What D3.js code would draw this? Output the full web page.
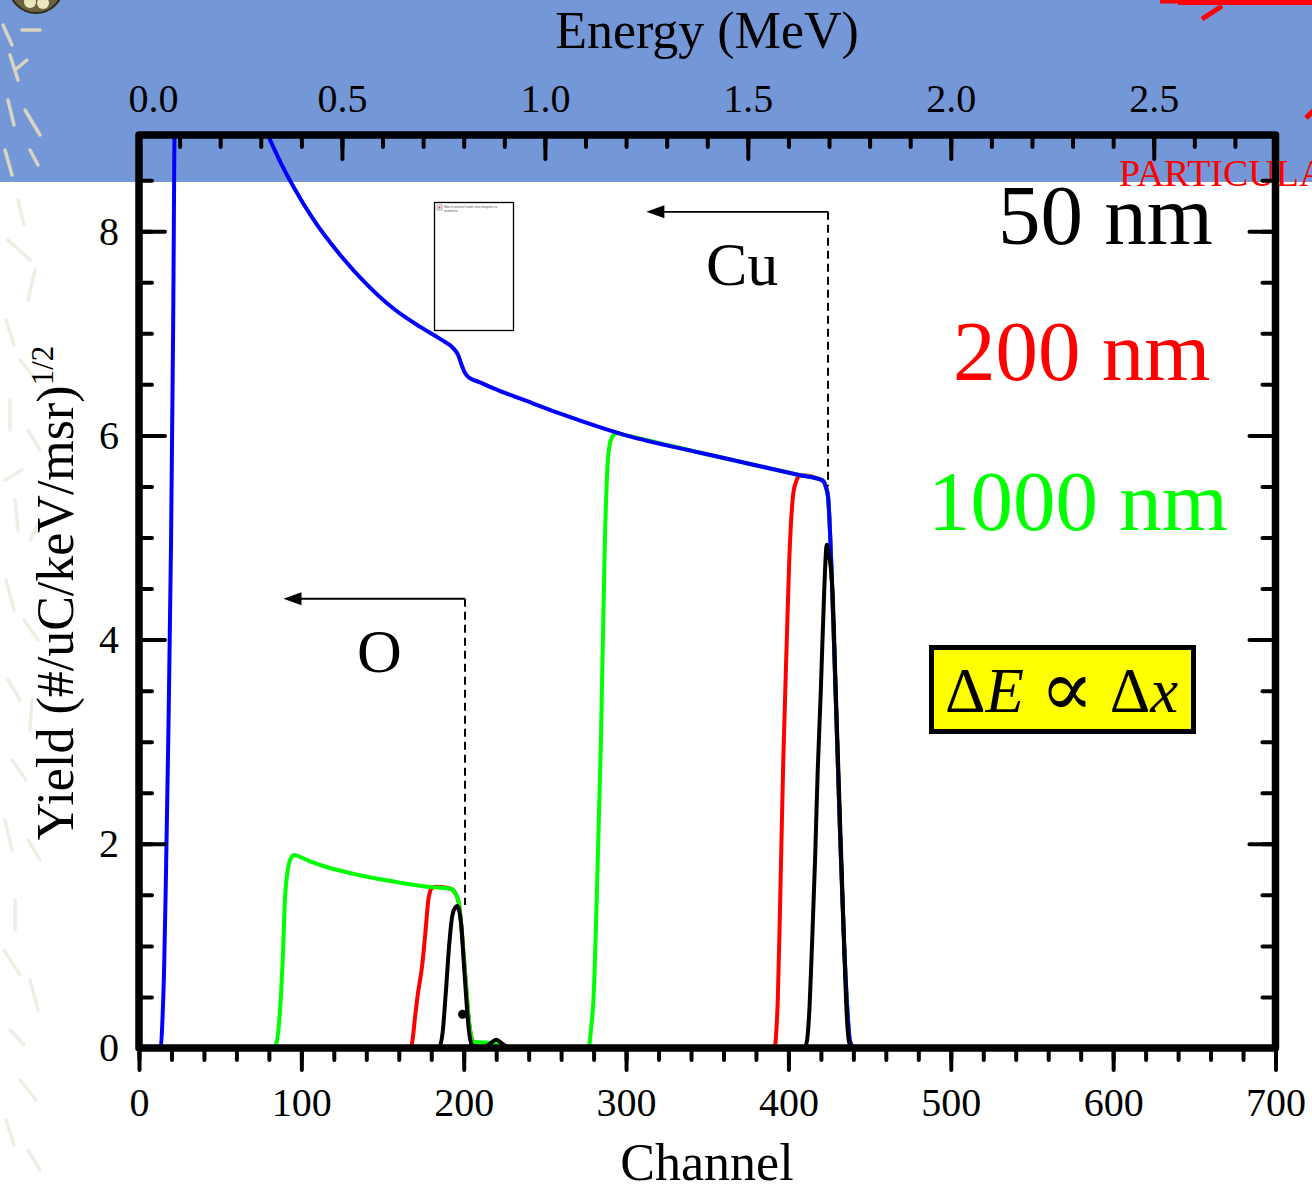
<!DOCTYPE html>
<html>
<head>
<meta charset="utf-8">
<script src="https://cdn.jsdelivr.net/npm/d3@7"></script>
<style>
  html, body { margin: 0; padding: 0; background: #fff; }
  svg { display: block; font-family: "Liberation Serif", "Times New Roman", serif; }
</style>
</head>
<body>
<div id="chart"></div>
<script>
// datos: [canal, yield]
const blueSeries = [[10,0],[13.5,0.02],[14.5,0.3],[15.5,0.8],[16.5,1.6],[18,3.0],[19.7,4.9],[21,7.0],[22.2,9.3],[70,9.27],[79.4,8.94],[87,8.68],[95.3,8.43],[107.6,8.11],[124.3,7.76],[140.9,7.47],[156.9,7.24],[173.5,7.06],[186,6.94],[193.8,6.85],[196.5,6.79],[198.5,6.70],[200.5,6.62],[203,6.57],[210,6.52],[218.4,6.46],[235,6.36],[260,6.21],[300,6.0],[345.7,5.83],[376.4,5.72],[407.2,5.61],[420.9,5.56],[423,5.5],[424.4,5.4],[425.5,5.1],[426.5,4.7],[428,4.0],[430,3.0],[432,2.0],[434,1.15],[436,0.45],[438,0.06],[441,0],[700,0]];

const greenSeries = [[0,0],[82,0],[84,0.02],[86.4,0.27],[88.5,0.86],[89.9,1.45],[91.6,1.74],[93.6,1.86],[95.5,1.89],[98,1.88],[105,1.83],[116,1.77],[136.6,1.69],[157,1.63],[177.5,1.58],[192,1.56],[195,1.51],[197,1.42],[198.5,1.2],[200,0.9],[201.5,0.6],[203,0.3],[204.5,0.12],[206,0.06],[212,0.055],[218,0.05],[223,0.04],[226,0],[270,0],[277,0.01],[278.5,0.2],[280,0.5],[282,1.5],[284.5,3.0],[287,5.0],[289,5.8],[291,5.97],[294,6.02],[300,6.0],[345.7,5.83],[376.4,5.72],[407.2,5.61],[420.9,5.56],[423,5.5],[424.4,5.4],[425.5,5.1],[426.5,4.7],[428,4.0],[430,3.0],[432,2.0],[434,1.15],[436,0.45],[438,0.06],[441,0],[700,0]];

const redSeries = [[0,0],[166,0],[167.5,0.01],[168.5,0.08],[170,0.3],[171.5,0.5],[174.5,0.82],[176.5,1.15],[178.4,1.47],[180.6,1.57],[183,1.58],[192,1.56],[195,1.51],[197,1.42],[198.5,1.2],[200,0.9],[201.5,0.6],[203,0.3],[204.5,0.12],[206,0.06],[210,0],[385,0],[391.5,0.01],[392.5,0.15],[393.5,0.5],[395,1.5],[396.8,2.8],[399,4.0],[400.5,4.77],[403,5.43],[405,5.56],[407.2,5.61],[420.9,5.56],[423,5.5],[424.4,5.4],[425.5,5.1],[426.5,4.7],[428,4.0],[430,3.0],[432,2.0],[434,1.15],[436,0.45],[438,0.06],[441,0],[700,0]];

const blackSeries = [[0,0],[180,0],[185,0.01],[187,0.15],[189,0.55],[191,1.0],[193,1.3],[195,1.38],[196,1.39],[197,1.36],[198.5,1.2],[200,0.85],[201.5,0.5],[203,0.2],[205,0.03],[208,0],[212,0],[216,0.04],[220,0.08],[224,0.04],[228,0],[405,0],[410,0],[411.5,0.08],[413,0.4],[414.5,1.0],[416.4,1.84],[418,2.7],[419.9,3.48],[422,4.46],[423.6,4.93],[425,4.83],[427.2,4.46],[429.2,3.48],[431,2.6],[432.6,1.84],[434.5,0.9],[436,0.3],[437.5,0.05],[440,0],[700,0]];

const strayPoints = [[199.3, 0.33]];

// ticks
const channelMajor = [0, 100, 200, 300, 400, 500, 600, 700];
const channelMinor = d3.range(0, 701, 20);
const yieldMajor = [0, 2, 4, 6, 8];
const yieldMinor = d3.range(0, 8.6, 0.5);
const energyMajor = [0, 0.5, 1.0, 1.5, 2.0, 2.5];
const energyMinor = d3.range(0, 2.81, 0.1);

const legendLabels = ["50 nm", "200 nm", "1000 nm"];
const legendColors = ["#000000", "#ff0000", "#00ff00"];

const w = 1312;
const h = 1185;
const pLeft = 139, pRight = 1275.5, pTop = 135, pBottom = 1048;

const xScale = d3.scaleLinear().domain([0, 700]).range([pLeft, pRight]);
const eScale = d3.scaleLinear().domain([0, 2.8]).range([pLeft, pRight]);
const yScale = d3.scaleLinear().domain([0, (pBottom - pTop) / 102.1]).range([pBottom, pTop]);

const svg = d3.select("#chart").append("svg").attr("width", w).attr("height", h);

// fondo de la diapositiva
svg.append("rect").attr("width", w).attr("height", h).attr("fill", "#fff");
svg.append("rect").attr("width", w).attr("height", 182).attr("fill", "#7498d7");

// adornos del margen izquierdo
const deco = svg.append("g").attr("stroke-linecap", "round").attr("fill", "none");
const decoLines = [
  [[22,30],[40,30]], [[3,25],[12,45]], [[10,55],[18,80]], [[15,70],[27,60]], [[8,100],[14,125]],
  [[25,110],[40,135]], [[5,150],[12,175]], [[30,150],[38,165]], [[18,200],[24,225]], [[8,240],[30,260]],
  [[35,270],[28,300]], [[6,320],[14,345]], [[20,360],[36,380]], [[10,400],[10,430]], [[28,430],[40,450]],
  [[5,480],[22,470]], [[15,500],[18,530]], [[30,540],[40,520]], [[6,580],[14,610]], [[24,620],[38,640]],
  [[8,680],[20,700]], [[32,700],[30,730]], [[12,760],[26,780]], [[5,820],[12,850]], [[28,840],[40,860]],
  [[15,900],[15,930]], [[4,950],[20,975]], [[30,980],[38,1010]], [[10,1030],[24,1045]], [[20,1080],[36,1100]],
  [[6,1120],[14,1145]], [[28,1150],[40,1170]]
];
decoLines.forEach((s) => {
  deco.append("line")
    .attr("x1", s[0][0]).attr("y1", s[0][1]).attr("x2", s[1][0]).attr("y2", s[1][1])
    .attr("stroke", s[0][1] < 182 ? "#d8d4c0" : "#f0ede4").attr("stroke-width", 3.5);
});
const ball = svg.append("g");
ball.append("circle").attr("cx", 36).attr("cy", -14).attr("r", 27).attr("fill", "#6b6342").attr("stroke", "#2e2a1a").attr("stroke-width", 2);
ball.append("circle").attr("cx", 30).attr("cy", 2).attr("r", 6).attr("fill", "#ece6bd");
ball.append("circle").attr("cx", 43).attr("cy", 3).attr("r", 6).attr("fill", "#ece6bd");

// trazos rojos arriba a la derecha
svg.append("line").attr("x1", 1160).attr("y1", 1).attr("x2", 1312).attr("y2", 1).attr("stroke", "#ff0000").attr("stroke-width", 5);
svg.append("line").attr("x1", 1178).attr("y1", 2).attr("x2", 1312).attr("y2", 2).attr("stroke", "#ff0000").attr("stroke-width", 6);
svg.append("line").attr("x1", 1202).attr("y1", 19).attr("x2", 1222).attr("y2", 6).attr("stroke", "#ff0000").attr("stroke-width", 5);
svg.append("line").attr("x1", 1306).attr("y1", 118).attr("x2", 1314).attr("y2", 110).attr("stroke", "#ff0000").attr("stroke-width", 5);
svg.append("text").attr("x", 1119).attr("y", 186).attr("font-size", 38).attr("fill", "#ff0000").text("PARTICULA");

// imagen rota
svg.append("rect").attr("x", 434.5).attr("y", 202.5).attr("width", 79).attr("height", 128)
  .attr("fill", "#fff").attr("stroke", "#000").attr("stroke-width", 1.3);
svg.append("rect").attr("x", 437).attr("y", 205).attr("width", 5).attr("height", 5)
  .attr("fill", "#fff").attr("stroke", "#888").attr("stroke-width", 0.7);
svg.append("rect").attr("x", 438.5).attr("y", 206.5).attr("width", 2).attr("height", 2).attr("fill", "#e03030");
const broken = svg.append("text").attr("x", 444).attr("y", 208).attr("font-family", "Liberation Sans, Arial, sans-serif")
  .attr("font-size", 3.2).attr("fill", "#555");
broken.append("tspan").attr("x", 444).text("Não é possível exibir esta imagem no");
broken.append("tspan").attr("x", 444).attr("dy", 3.6).text("momento.");

// curvas
svg.append("clipPath").attr("id", "plot-clip")
  .append("rect").attr("x", pLeft).attr("y", pTop).attr("width", pRight - pLeft).attr("height", pBottom - pTop);

const line = d3.line()
  .x((d) => xScale(d[0]))
  .y((d) => yScale(d[1]))
  .curve(d3.curveMonotoneX);

const curves = svg.append("g").attr("clip-path", "url(#plot-clip)");
[[redSeries, "#ff0000"], [greenSeries, "#00ff00"], [blueSeries, "#0000ff"], [blackSeries, "#000000"]].forEach(([s, c]) => {
  curves.append("path")
    .datum(s)
    .attr("fill", "none")
    .attr("stroke", c)
    .attr("stroke-width", 4)
    .attr("stroke-linejoin", "round")
    .attr("d", line);
});
curves.selectAll("circle.stray")
  .data(strayPoints)
  .enter()
  .append("circle")
  .attr("class", "stray")
  .attr("cx", (d) => xScale(d[0]))
  .attr("cy", (d) => yScale(d[1]))
  .attr("r", 4.5)
  .attr("fill", "#000");

// ejes
function styleAxis(g) {
  g.select(".domain").remove();
  g.selectAll(".tick line").attr("stroke", "#000").attr("stroke-width", 4).attr("stroke-linecap", "round");
  g.selectAll(".tick text").attr("font-family", "Liberation Serif, Times New Roman, serif").attr("font-size", 40).attr("fill", "#000");
}

svg.append("g").attr("transform", `translate(0, ${pBottom})`)
  .call(d3.axisBottom(xScale).tickValues(channelMinor).tickSize(12).tickFormat(""))
  .call(styleAxis);
svg.append("g").attr("transform", `translate(0, ${pBottom})`)
  .call(d3.axisBottom(xScale).tickValues(channelMajor).tickSize(22).tickPadding(18).tickFormat(d3.format("d")))
  .call(styleAxis);

svg.append("g").attr("transform", `translate(${pLeft}, 0)`)
  .call(d3.axisLeft(yScale).tickValues(yieldMinor).tickSize(-13).tickFormat(""))
  .call(styleAxis);
svg.append("g").attr("transform", `translate(${pLeft}, 0)`)
  .call(d3.axisLeft(yScale).tickValues(yieldMajor).tickSize(-26).tickPadding(20).tickFormat(d3.format("d")))
  .call(styleAxis);

svg.append("g").attr("transform", `translate(${pRight}, 0)`)
  .call(d3.axisRight(yScale).tickValues(yieldMinor).tickSize(-13).tickFormat(""))
  .call(styleAxis);
svg.append("g").attr("transform", `translate(${pRight}, 0)`)
  .call(d3.axisRight(yScale).tickValues(yieldMajor).tickSize(-26).tickFormat(""))
  .call(styleAxis);

svg.append("g").attr("transform", `translate(0, ${pTop})`)
  .call(d3.axisTop(eScale).tickValues(energyMinor).tickSize(-12).tickFormat(""))
  .call(styleAxis);
const topAxis = svg.append("g").attr("transform", `translate(0, ${pTop})`)
  .call(d3.axisTop(eScale).tickValues(energyMajor).tickSize(-24).tickPadding(23).tickFormat(d3.format(".1f")))
  .call(styleAxis);
topAxis.selectAll(".tick text").filter((d) => d === 0).attr("dx", 14);

// marco
svg.append("rect")
  .attr("x", pLeft).attr("y", pTop)
  .attr("width", pRight - pLeft).attr("height", pBottom - pTop)
  .attr("fill", "none").attr("stroke", "#000").attr("stroke-width", 7.5).attr("stroke-linejoin", "round");

// titulos de ejes
svg.append("text").attr("x", 707).attr("y", 48).attr("text-anchor", "middle").attr("font-size", 52).text("Energy (MeV)");
svg.append("text").attr("x", 707).attr("y", 1180).attr("text-anchor", "middle").attr("font-size", 52).text("Channel");
const ylab = svg.append("text").attr("transform", "translate(73, 593) rotate(-90)").attr("text-anchor", "middle").attr("font-size", 52);
ylab.append("tspan").text("Yield (#/uC/keV/msr)");
ylab.append("tspan").attr("font-size", 31).attr("dy", -20).text("1/2");

// leyenda
const legendX = [998, 953, 928];
const legendY = [244, 380, 530];
legendLabels.forEach((t, i) => {
  svg.append("text").attr("x", legendX[i]).attr("y", legendY[i]).attr("font-size", 85).attr("fill", legendColors[i]).text(t);
});

// flechas Cu y O
function edgeArrow(ch, val, chEnd, valBottom, label, lx, ly) {
  const x0 = xScale(ch), y0 = yScale(val), x1 = xScale(chEnd);
  svg.append("line").attr("x1", x0).attr("y1", y0).attr("x2", x0).attr("y2", yScale(valBottom))
    .attr("stroke", "#000").attr("stroke-width", 2).attr("stroke-dasharray", "8,5");
  svg.append("line").attr("x1", x0).attr("y1", y0).attr("x2", x1 + 12).attr("y2", y0)
    .attr("stroke", "#000").attr("stroke-width", 1.8);
  svg.append("path").attr("d", `M${x1},${y0} L${x1 + 18},${y0 - 6.5} L${x1 + 18},${y0 + 6.5} Z`).attr("fill", "#000");
  svg.append("text").attr("x", lx).attr("y", ly).attr("font-size", 62).text(label);
}
edgeArrow(424.4, 8.19, 312.5, 5.5, "Cu", 706, 285);
edgeArrow(200.8, 4.40, 89, 1.4, "O", 357, 672);

// caja amarilla
svg.append("rect").attr("x", 931.5).attr("y", 647.5).attr("width", 262).attr("height", 84)
  .attr("fill", "#ffff00").attr("stroke", "#000").attr("stroke-width", 5);
const eq = svg.append("text").attr("x", 945).attr("y", 712).attr("font-size", 63);
eq.append("tspan").text("Δ");
eq.append("tspan").attr("font-style", "italic").text("E");
eq.append("tspan").text(" ");
eq.append("tspan").attr("font-family", "DejaVu Serif, serif").attr("font-size", 80).attr("dy", 4).text("∝");
eq.append("tspan").attr("dy", -4).text(" Δ");
eq.append("tspan").attr("font-style", "italic").text("x");
</script>
</body>
</html>
